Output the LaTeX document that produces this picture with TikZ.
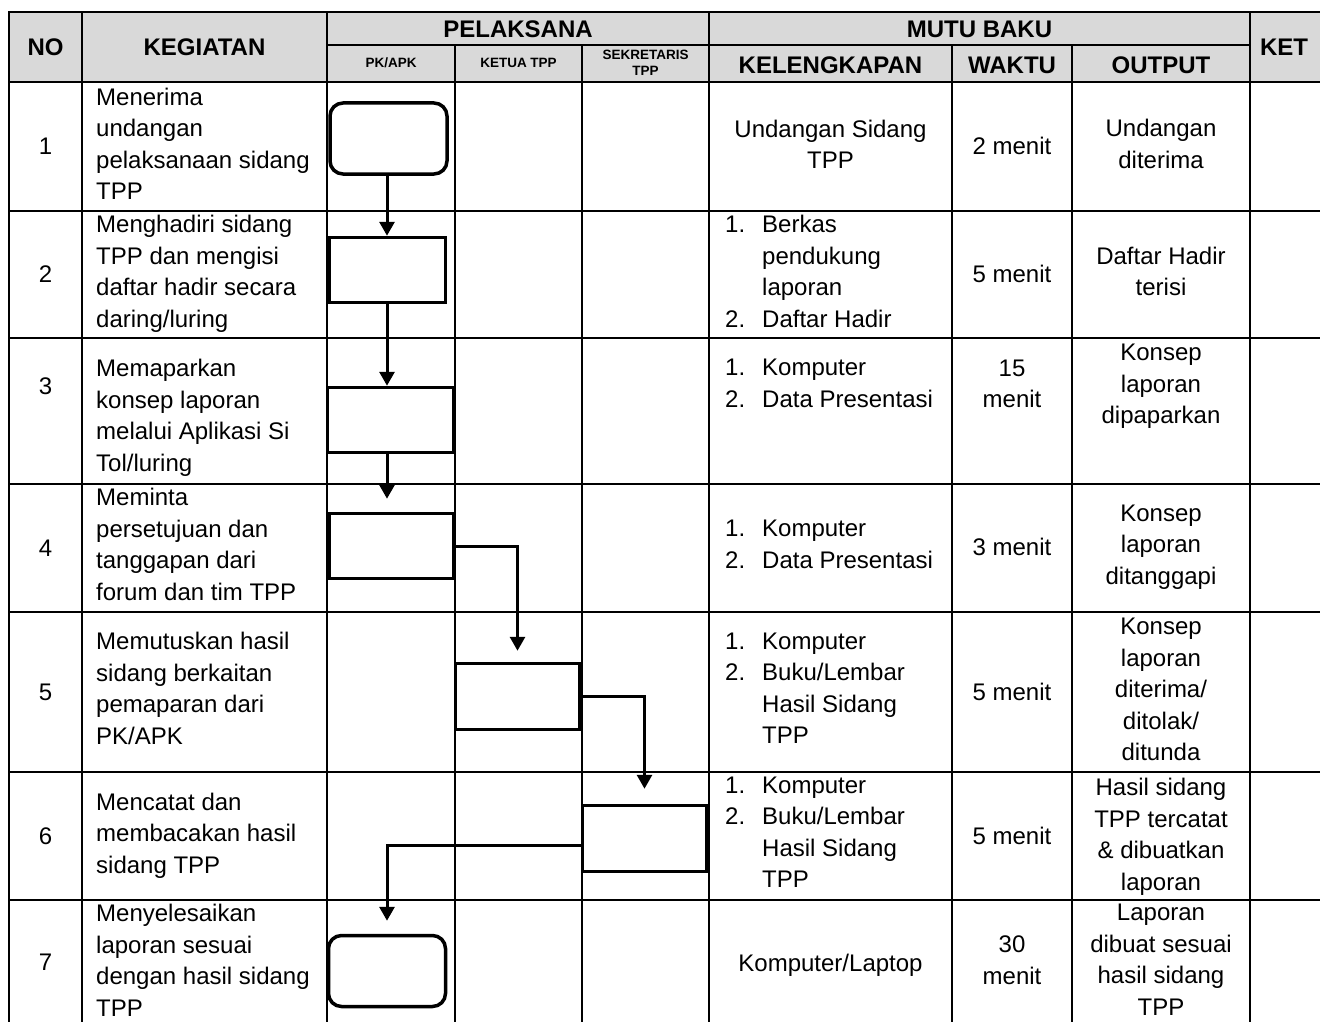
\documentclass[tikz,border=0pt]{standalone}
\usepackage{fontspec}
\setmainfont{Liberation Sans}
\usetikzlibrary{arrows.meta}
\definecolor{headgray}{RGB}{217,217,217}
\newcommand{\itemno}[1]{\makebox[37pt][l]{#1}}
\newcommand{\itemgap}{\hspace*{37pt}}

\begin{document}
\begin{tikzpicture}[x=1pt,y=-1pt,
  grid line/.style={line width=2pt,line cap=rect},
  body/.style={font=\fontsize{24}{31.5}\selectfont,inner sep=0pt,align=center,
    execute at begin node=\strut,execute at end node=\strut},
  task/.style={body,align=left,anchor=west},
  hdr/.style={font=\fontsize{24}{29}\selectfont\bfseries,inner sep=0pt},
  subhdr/.style={font=\fontsize{13.5}{16}\selectfont\bfseries,inner sep=0pt,align=center},
  proc/.style={draw,line width=3.5pt,inner sep=0pt},
  term/.style={proc,rounded corners=13pt},
  flow/.style={line width=3pt,-{Triangle[length=14pt,width=15pt]}}]
\useasboundingbox (0,0) rectangle (1320,1022);
\fill[headgray] (9,12) rectangle (1320,82);
\draw[grid line] (9,12) -- (1320,12);
\draw[grid line] (327,45) -- (1250,45);
\draw[grid line] (9,82) -- (1320,82);
\foreach \y in {211,338,484,612,772,900}
  \draw[grid line] (9,\y) -- (1320,\y);
\foreach \x in {9,82,327,709,1250}
  \draw[grid line] (\x,12) -- (\x,1022);
\foreach \x in {455,582,952,1072}
  \draw[grid line] (\x,45) -- (\x,1022);

\node[hdr] (hno) at (45.5,47) {NO};
\node[hdr] (hkeg) at (204.5,47) {KEGIATAN};
\node[hdr] (hpel) at (518,29) {PELAKSANA};
\node[hdr] (hmutu) at (979.5,29) {MUTU BAKU};
\node[hdr] (hket) at (1284,47) {KET};
\node[subhdr] (hpk) at (391,63) {PK/APK};
\node[subhdr] (hketua) at (518.5,63) {KETUA TPP};
\node[subhdr] (hsek) at (645.5,63) {SEKRETARIS\\TPP};
\node[hdr] (hkel) at (830.5,65) {KELENGKAPAN};
\node[hdr] (hwaktu) at (1012,65) {WAKTU};
\node[hdr] (hout) at (1161,65) {OUTPUT};

\node[body] (no1) at (45.5,148.5) {1};
\node[body] (no2) at (45.5,276) {2};
\node[body] (no3) at (45.5,388.5) {3};
\node[body] (no4) at (45.5,550) {4};
\node[body] (no5) at (45.5,694) {5};
\node[body] (no6) at (45.5,838) {6};
\node[body] (no7) at (45.5,964) {7};

\node[task] (keg1) at (96,148.5) {Menerima\\undangan\\pelaksanaan sidang\\TPP};
\node[task] (keg2) at (96,276) {Menghadiri sidang\\TPP dan mengisi\\daftar hadir secara\\daring/luring};
\node[task] (keg3) at (96,420) {Memaparkan\\konsep laporan\\melalui Aplikasi Si\\Tol/luring};
\node[task] (keg4) at (96,549) {Meminta\\persetujuan dan\\tanggapan dari\\forum dan tim TPP};
\node[task] (keg5) at (96,693) {Memutuskan hasil\\sidang berkaitan\\pemaparan dari\\PK/APK};
\node[task] (keg6) at (96,838) {Mencatat dan\\membacakan hasil\\sidang TPP};
\node[task] (keg7) at (96,965) {Menyelesaikan\\laporan sesuai\\dengan hasil sidang\\TPP};

\node[body] (kel1) at (830.5,149) {Undangan Sidang\\TPP};
\node[task] (kel2) at (725,276) {\itemno{1.}Berkas\\\itemgap pendukung\\\itemgap laporan\\\itemno{2.}Daftar Hadir};
\node[task] (kel3) at (725,388) {\itemno{1.}Komputer\\\itemno{2.}Data Presentasi};
\node[task] (kel4) at (725,549) {\itemno{1.}Komputer\\\itemno{2.}Data Presentasi};
\node[task] (kel5) at (725,693) {\itemno{1.}Komputer\\\itemno{2.}Buku/Lembar\\\itemgap Hasil Sidang\\\itemgap TPP};
\node[task] (kel6) at (725,837) {\itemno{1.}Komputer\\\itemno{2.}Buku/Lembar\\\itemgap Hasil Sidang\\\itemgap TPP};
\node[body] (kel7) at (830.5,965) {Komputer/Laptop};

\node[body] (wkt1) at (1012,148.5) {2 menit};
\node[body] (wkt2) at (1012,276) {5 menit};
\node[body] (wkt3) at (1012,388.5) {15\\menit};
\node[body] (wkt4) at (1012,549) {3 menit};
\node[body] (wkt5) at (1012,694) {5 menit};
\node[body] (wkt6) at (1012,838) {5 menit};
\node[body] (wkt7) at (1012,965) {30\\menit};

\node[body] (out1) at (1161,148.5) {Undangan\\diterima};
\node[body] (out2) at (1161,276) {Daftar Hadir\\terisi};
\node[body] (out3) at (1161,388.5) {Konsep\\laporan\\dipaparkan};
\node[body] (out4) at (1161,549) {Konsep\\laporan\\ditanggapi};
\node[body] (out5) at (1161,694) {Konsep\\laporan\\diterima/\\ditolak/\\ditunda};
\node[body] (out6) at (1161,839) {Hasil sidang\\TPP tercatat\\\& dibuatkan\\laporan};
\node[body] (out7) at (1161,964.5) {Laporan\\dibuat sesuai\\hasil sidang\\TPP};

\node[term,minimum width=117pt,minimum height=71pt] (b1) at (388.5,138.5) {};
\node[proc,minimum width=116pt,minimum height=65pt] (b2) at (387.5,270) {};
\node[proc,minimum width=126pt,minimum height=65pt] (b3) at (390.5,420) {};
\node[proc,minimum width=124pt,minimum height=65pt] (b4) at (391.5,546) {};
\node[proc,minimum width=124pt,minimum height=66pt] (b5) at (517.5,696.5) {};
\node[proc,minimum width=124pt,minimum height=66pt] (b6) at (644.5,838.5) {};
\node[term,minimum width=117pt,minimum height=71pt] (b7) at (387,971) {};

\coordinate (pk) at (387,0);
\draw[flow] (b1.south -| pk) -- (b2.north -| pk);
\draw[flow] (b2.south -| pk) -- (b3.north -| pk);
\draw[flow,shorten >=13pt] (b3.south -| pk) -- (b4.north -| pk);
\draw[flow,shorten >=11pt] (b4.east) -| (b5.north);
\draw[flow,shorten >=15pt] (b5.east) -| (b6.north);
\draw[flow,shorten >=13pt] ([yshift=-7pt]b6.west) -| (b7.north);
\end{tikzpicture}
\end{document}
